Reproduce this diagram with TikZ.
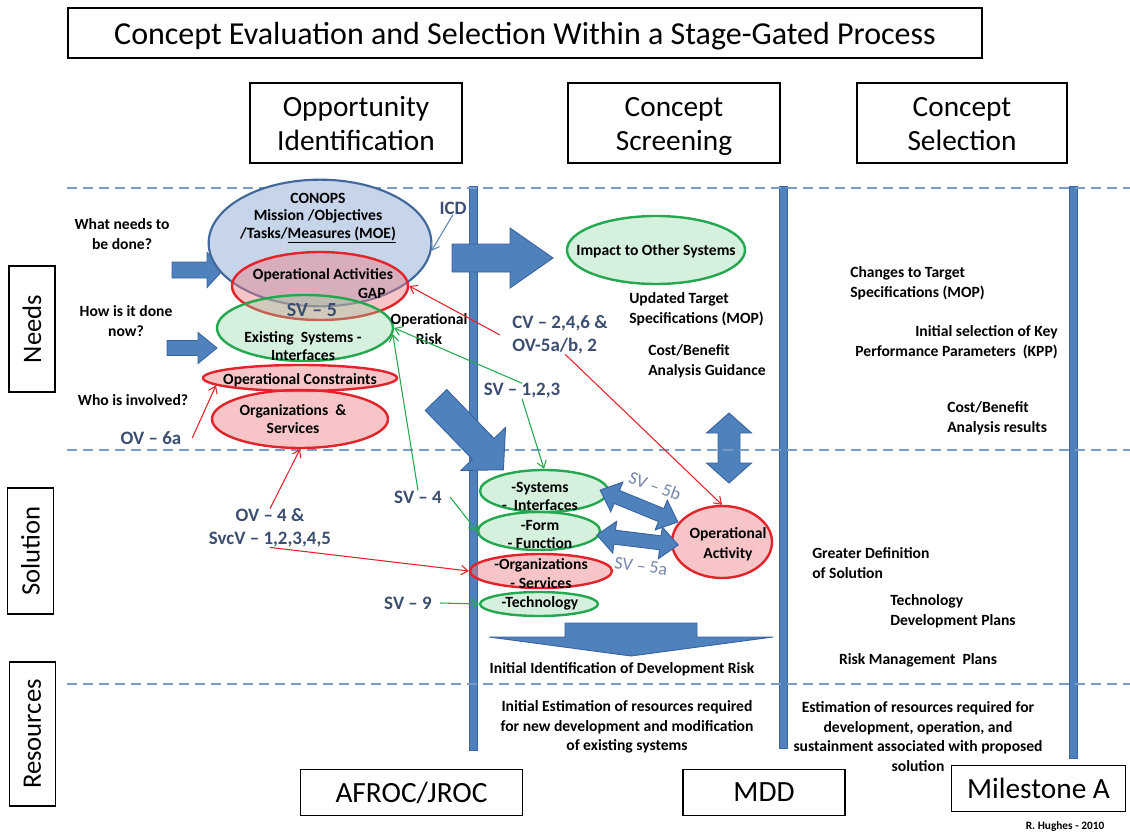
\documentclass[tikz,border=0pt]{standalone}
\usepackage{fontspec}
\setmainfont{Carlito}
\usetikzlibrary{arrows.meta,shapes.geometric}
\definecolor{barblue}{HTML}{4F81BD}
\definecolor{bardark}{HTML}{3A64A0}
\definecolor{slate}{HTML}{3C4E70}
\definecolor{lightslate}{HTML}{7485AD}
\definecolor{dashblue}{HTML}{7A9CC8}
\definecolor{ellblue}{HTML}{C6D5EA}
\definecolor{elldarkblue}{HTML}{41679C}
\definecolor{rln}{HTML}{E3232A}
\definecolor{gln}{HTML}{23A850}
\definecolor{rfill}{HTML}{EE7F85}
\definecolor{gfill}{HTML}{8BD5A2}
\definecolor{thinblue}{HTML}{5B86B8}
\newcommand\hdtop{\rule{0pt}{23.5pt}}
\newcommand\hdbot{\rule[-7.5pt]{0pt}{7.5pt}}
\tikzset{
 every node/.style={inner sep=0pt},
 txt/.style={font=\bfseries\fontsize{11.7}{14.8}\selectfont, align=center},
 txtl/.style={txt, align=left},
 txtr/.style={txt, align=right},
 vl/.style={font=\bfseries\fontsize{14.2}{17}\selectfont, text=slate, align=center},
 vll/.style={vl, align=left},
 svl/.style={font=\fontsize{13.5}{15}\selectfont, text=lightslate},
 big/.style={font=\fontsize{22}{25}\selectfont, align=center},
 frame/.style={draw=black, line width=0.9pt},
 blueblk/.style={fill=barblue, draw=bardark, line width=0.7pt},
 dashln/.style={draw=dashblue, line width=0.9pt, dash pattern=on 7.5pt off 4.5pt},
 blueell/.style={ellipse, draw=elldarkblue, line width=1.6pt, fill=ellblue},
 redell/.style={ellipse, draw=rln, line width=1.8pt, fill=rfill, fill opacity=0.45},
 grnell/.style={ellipse, draw=gln, line width=1.8pt, fill=gfill, fill opacity=0.35},
 rarr/.style={draw=rln, line width=0.8pt, -{Straight Barb[length=5pt,width=7pt]}},
 garr/.style={draw=gln, line width=0.8pt, -{Straight Barb[length=5pt,width=7pt]}},
 barr/.style={draw=thinblue, line width=0.8pt, -{Straight Barb[length=5pt,width=7pt]}},
}
\newcommand\dblarr[7]{%
\filldraw[blueblk,shift={(#1,#2)},rotate=#3] ({-(#4)},0) -- ({-(#4)+(#7)},{#6}) -- ({-(#4)+(#7)},{#5}) -- ({(#4)-(#7)},{#5}) -- ({(#4)-(#7)},{#6}) -- ({#4},0) -- ({(#4)-(#7)},{-(#6)}) -- ({(#4)-(#7)},{-(#5)}) -- ({-(#4)+(#7)},{-(#5)}) -- ({-(#4)+(#7)},{-(#6)}) -- cycle;}
\newcommand\sglarr[7]{%
\filldraw[blueblk,shift={(#1,#2)},rotate=#3] (0,{-(#5)}) -- ({(#4)-(#7)},{-(#5)}) -- ({(#4)-(#7)},{-(#6)}) -- ({#4},0) -- ({(#4)-(#7)},{#6}) -- ({(#4)-(#7)},{#5}) -- (0,{#5}) -- cycle;}
\begin{document}
\begin{tikzpicture}[x=0.75pt,y=-0.75pt]
\useasboundingbox[fill=white] (0,0) rectangle (1130,834);
% vertical bars
\filldraw[blueblk] (469,186) rectangle (477,750);
\filldraw[blueblk] (779,186) rectangle (787,748);
\filldraw[blueblk] (1069,186) rectangle (1077,758);
% vertical double arrow
\dblarr{729}{448}{90}{35}{11}{22.5}{20}
% dashed lines
\draw[dashln] (67,188) -- (1130,188);
\draw[dashln] (67,450) -- (1130,450);
\draw[dashln] (67,684) -- (1130,684);
% title and headers
\node[frame, minimum width=685.5pt, minimum height=37.5pt, font=\fontsize{24}{28}\selectfont] (title) at (525,33) {\rule[-8.4pt]{0pt}{34pt}Concept Evaluation and Selection Within a Stage-Gated Process};
\node[frame, minimum width=159pt, minimum height=60pt, big] (h1) at (356,123) {\hdtop Opportunity\\Identification\hdbot};
\node[frame, minimum width=159pt, minimum height=60pt, big] (h2) at (674,123) {\hdtop Concept\\Screening\hdbot};
\node[frame, minimum width=157.5pt, minimum height=60pt, big] (h3) at (962,123) {\hdtop Concept\\Selection\hdbot};
% row labels
\node[frame, rotate=90, minimum width=94.5pt, minimum height=34.5pt, font=\fontsize{20}{24}\selectfont] (needs) at (32,329) {Needs};
\node[frame, rotate=90, minimum width=94.5pt, minimum height=35pt, font=\fontsize{20}{24}\selectfont] (solution) at (30.5,551) {Solution};
\node[frame, rotate=90, minimum width=108pt, minimum height=35pt, font=\fontsize{20}{24}\selectfont] (resources) at (32.5,734) {Resources};
% bottom boxes
\node[frame, minimum width=167pt, minimum height=34pt, big] (afroc) at (411.5,792.5) {AFROC/JROC};
\node[frame, minimum width=121.5pt, minimum height=34pt, big] (mdd) at (764,792.5) {MDD};
% block arrows
\sglarr{172}{270}{0}{51}{8}{17.5}{16}
\sglarr{167}{348}{0}{50}{7.5}{15.5}{19}
\sglarr{452}{258}{0}{101}{14}{30}{43}
\sglarr{436}{400}{-46}{97}{15}{31}{29}
\sglarr{631}{623}{-90}{33}{66}{142}{19}
% ellipses, left
\node[blueell, minimum width=167pt, minimum height=95pt] (conops) at (320,243) {};
\node[redell, minimum width=132pt, minimum height=51pt] (gap) at (320,286) {};
\node[grnell, minimum width=132pt, minimum height=49.5pt] (exist) at (305,328) {};
\node[redell, minimum width=145.5pt, minimum height=19.5pt] (opcon) at (300,378) {};
\node[redell, minimum width=132pt, minimum height=43.5pt] (orgs) at (300,419) {};
% ellipses, middle
\node[grnell, minimum width=133.5pt, minimum height=51pt] (impact) at (656,250) {};
\node[grnell, minimum width=96pt, minimum height=31.5pt] (sysint) at (544,491) {};
\node[grnell, minimum width=91.5pt, minimum height=28.5pt] (form) at (539,531) {};
\node[redell, minimum width=106.5pt, minimum height=25.5pt] (orgsv) at (541,571) {};
\node[grnell, minimum width=88.5pt, minimum height=18pt] (tech) at (539,604) {};
\node[redell, minimum width=75pt, minimum height=54pt] (opact) at (722,542) {};
% SV-5a/b double arrows
\dblarr{639}{506}{-22.3}{42}{7}{16}{18}
\dblarr{637.5}{540}{-7}{41}{7}{16}{18}
% ellipse texts
\node[txt, font=\bfseries\fontsize{11.7}{13.2}\selectfont] (conopst) at (318,218) {CONOPS\\Mission /Objectives\\/Tasks/\underline{Measures (MOE)}};
\node[txt] (gapt) at (323,275) {Operational Activities};
\node[txt, anchor=east] (gapt2) at (386,293) {GAP};
\node[vl, font=\bfseries\fontsize{15}{17}\selectfont] (sv5) at (312,310) {SV -- 5};
\node[txt, font=\bfseries\fontsize{11.7}{13.5}\selectfont] (existt) at (303,346) {Existing\ \ Systems -\\Interfaces};
\node[txt] (opcont) at (300,380) {Operational Constraints};
\node[txt, font=\bfseries\fontsize{11.7}{13.5}\selectfont] (orgst) at (293,419) {Organizations\ \ \&\\Services};
\node[txt] (impactt) at (656,251) {Impact to Other Systems};
\node[txt, font=\bfseries\fontsize{11.7}{13.5}\selectfont] (sysintt) at (540,496) {-Systems\\-\ \ Interfaces};
\node[txt, font=\bfseries\fontsize{11.7}{14.2}\selectfont] (formt) at (540,534.5) {-Form\\- Function};
\node[txt, font=\bfseries\fontsize{11.7}{14.2}\selectfont] (orgsvt) at (541,573.5) {-Organizations\\- Services};
\node[txt] (techt) at (540,603) {-Technology};
\node[txt] (opactt) at (728,544) {Operational\\Activity};
% SV-5a/b labels
\node[svl, rotate=-20] (sv5b) at (655,486) {SV -- 5b};
\node[svl, rotate=-8] (sv5a) at (641,566) {SV -- 5a};
% left question texts
\node[txt] (q1) at (122,234) {What needs to\\be done?};
\node[txt] (q2) at (126,321) {How is it done\\now?};
\node[txt] (q3) at (133,400) {Who is involved?};
\node[vl] (ov6a) at (151,438) {OV -- 6a};
\node[vl] (icd) at (453,208) {ICD};
\node[txt] (oprisk) at (429,329) {Operational\\Risk};
% view labels
\node[vll, anchor=west] (cv) at (512,335) {CV -- 2,4,6 \&\\OV-5a/b, 2};
\node[vl] (sv123) at (522,391) {SV -- 1,2,3};
\node[vl] (ov4) at (270,528) {OV -- 4 \&\\SvcV -- 1,2,3,4,5};
\node[vl] (sv4) at (418,497) {SV -- 4};
\node[vl] (sv9) at (408,603) {SV -- 9};
% column texts
\node[txtl, anchor=west] (updt) at (629,309.5) {Updated Target\\Specifications (MOP)};
\node[txtl, anchor=west] (cbg) at (648,361.5) {Cost/Benefit\\Analysis Guidance};
\node[txtl, anchor=west] (chg) at (850,283) {Changes to Target\\Specifications (MOP)};
\node[txtr, anchor=east] (kpp) at (1058,342) {Initial selection of Key\\Performance Parameters\ \ (KPP)};
\node[txtl, anchor=west] (cbr) at (947,418) {Cost/Benefit\\Analysis results};
\node[txtl, anchor=west] (gdef) at (812,563) {Greater Definition\\of Solution};
\node[txtl, anchor=west] (tdp) at (890,611.5) {Technology\\Development Plans};
\node[txt] (rmp) at (918,660) {Risk Management\ \ Plans};
\node[txt] (idr) at (622,669) {Initial Identification of Development Risk};
\node[txt] (ier) at (627,727) {Initial Estimation of resources required\\for new development and modification\\of existing systems};
\node[txt] (er) at (918,736.5) {Estimation of resources required for\\development, operation, and\\sustainment associated with proposed\\solution};
\node[frame, minimum width=130pt, minimum height=35pt, big] (msa) at (1038.5,788.5) {Milestone A};
\node[font=\bfseries\fontsize{8.5}{9}\selectfont] (rh) at (1065,826) {R. Hughes - 2010};
% connectors
\draw[barr] (icd.south) -- (conops.-4);
\draw[rarr] ([xshift=-9pt]cv.west) -- (gap.east);
\draw[garr] (sv123.north) -- (exist.east);
\draw[garr] (sv4.north) -- (exist.-4);
\draw[rarr] ([xshift=8pt]ov6a.east) -- (opcon.185);
\draw[rarr] (ov4.north) -- (orgs.south);
\draw[rarr] (ov4.south) -- (orgsv.west);
\draw[garr] ([xshift=6pt]sv4.east) -- (form.west);
\draw[garr] ([xshift=6pt]sv9.east) -- (tech.west);
\draw[garr] (sv123.south) -- (sysint.north);
\draw[rarr] ([xshift=4pt]cv.south) -- (opact.north);
\end{tikzpicture}
\end{document}
